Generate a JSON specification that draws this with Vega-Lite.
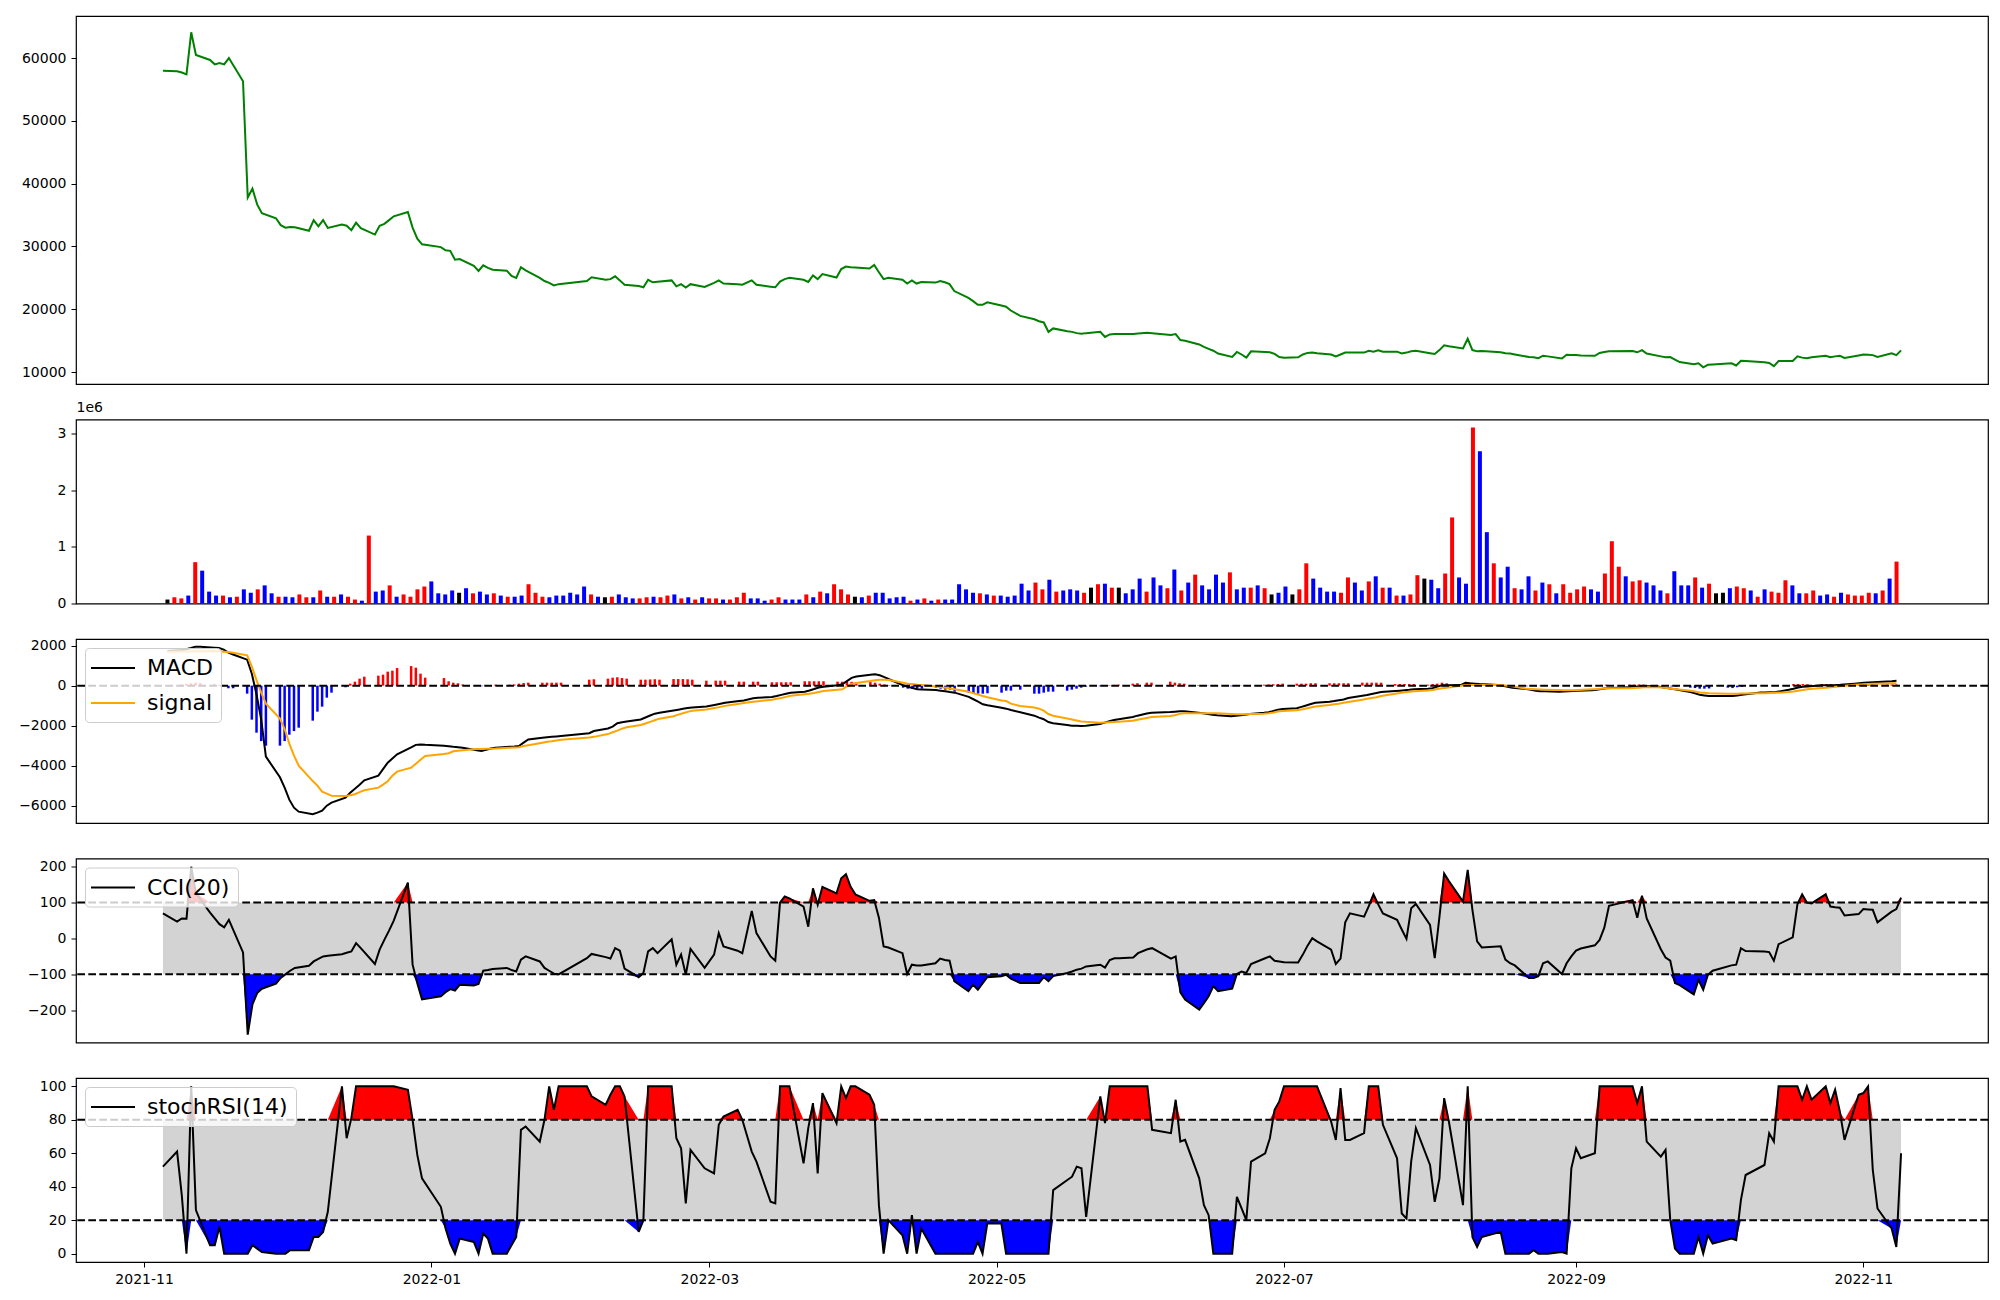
{
"$schema":"https://vega.github.io/schema/vega-lite/v6.json",
"padding":{"left":18,"top":15,"right":15,"bottom":10},
"bounds":"flush",
"spacing":35.5,
"resolve":{"scale":{"color":"independent"},"legend":{"color":"independent"}},
"config":{
 "view":{"stroke":"black","strokeWidth":1.2},
 "axis":{"labelFont":"DejaVu Sans","labelFontSize":14,"labelColor":"black","tickColor":"black","tickSize":5,"tickWidth":1,"labelPadding":5,"domain":false,"grid":false,"titleFont":"DejaVu Sans","titleFontWeight":"normal","titleColor":"black"},
 "legend":{"orient":"top-left","offset":9,"fillColor":"rgba(255,255,255,0.8)","strokeColor":"#cccccc","cornerRadius":4,"padding":8,"labelFont":"DejaVu Sans","labelFontSize":22,"labelColor":"black","symbolType":"M-2,0H2","symbolStrokeWidth":2,"symbolSize":484,"symbolOffset":8,"labelOffset":22,"rowPadding":12}
},
"datasets":{"d":[
{"t":"2021-11-05","i":0,"p":58000,"v":70000,"k":"n","m":1730,"s":1700,"h":30,"c":70,"r":52},
{"t":"2021-11-08","i":1,"p":57900,"v":110000,"k":"u","m":1780,"s":1705,"h":60,"c":47,"r":61},
{"t":"2021-11-09","i":2,"p":57700,"v":90000,"k":"u","m":1820,"s":1710,"h":90,"c":56,"r":35},
{"t":"2021-11-10","i":3,"p":57400,"v":140000,"k":"d","m":1880,"s":1715,"h":120,"c":55,"r":0},
{"t":"2021-11-11","i":4,"p":64100,"v":730000,"k":"u","m":1950,"s":1720,"h":150,"c":200,"r":100},
{"t":"2021-11-12","i":5,"p":60500,"v":580000,"k":"d","m":1950,"s":1725,"h":130,"c":126,"r":26},
{"t":"2021-11-15","i":6,"p":59700,"v":210000,"k":"d","m":1900,"s":1730,"h":80,"c":72,"r":5},
{"t":"2021-11-16","i":7,"p":59000,"v":140000,"k":"d","m":1880,"s":1725,"h":40,"c":56,"r":5},
{"t":"2021-11-17","i":8,"p":59200,"v":140000,"k":"u","m":1800,"s":1700,"h":-20,"c":40,"r":16},
{"t":"2021-11-18","i":9,"p":59000,"v":110000,"k":"d","m":1650,"s":1680,"h":-130,"c":31,"r":0},
{"t":"2021-11-19","i":10,"p":60000,"v":120000,"k":"u","m":1560,"s":1650,"h":-130,"c":52,"r":0},
{"t":"2021-11-22","i":11,"p":56300,"v":250000,"k":"d","m":1300,"s":1520,"h":-400,"c":-39,"r":0},
{"t":"2021-11-23","i":12,"p":37800,"v":190000,"k":"d","m":600,"s":950,"h":-1700,"c":-268,"r":0},
{"t":"2021-11-24","i":13,"p":39200,"v":250000,"k":"u","m":-440,"s":280,"h":-2350,"c":-184,"r":5},
{"t":"2021-11-25","i":14,"p":36700,"v":320000,"k":"d","m":-1700,"s":-350,"h":-2770,"c":-152,"r":3},
{"t":"2021-11-26","i":15,"p":35300,"v":180000,"k":"d","m":-3550,"s":-900,"h":-3000,"c":-140,"r":1},
{"t":"2021-11-29","i":16,"p":34500,"v":120000,"k":"u","m":-4580,"s":-1650,"h":-3000,"c":-126,"r":0},
{"t":"2021-11-30","i":17,"p":33400,"v":120000,"k":"d","m":-5100,"s":-2170,"h":-2770,"c":-110,"r":0},
{"t":"2021-12-01","i":18,"p":33000,"v":110000,"k":"d","m":-5700,"s":-2900,"h":-2450,"c":-100,"r":0},
{"t":"2021-12-02","i":19,"p":33100,"v":160000,"k":"u","m":-6100,"s":-3500,"h":-2270,"c":-90,"r":2},
{"t":"2021-12-03","i":20,"p":33050,"v":110000,"k":"u","m":-6300,"s":-4000,"h":-2100,"c":-82,"r":2},
{"t":"2021-12-06","i":21,"p":32500,"v":110000,"k":"d","m":-6430,"s":-4770,"h":-1750,"c":-76,"r":2},
{"t":"2021-12-07","i":22,"p":34200,"v":230000,"k":"u","m":-6350,"s":-5000,"h":-1300,"c":-64,"r":10},
{"t":"2021-12-08","i":23,"p":33200,"v":120000,"k":"d","m":-6250,"s":-5300,"h":-1050,"c":-57,"r":10},
{"t":"2021-12-09","i":24,"p":34200,"v":120000,"k":"u","m":-6000,"s":-5400,"h":-600,"c":-50,"r":13},
{"t":"2021-12-10","i":25,"p":32950,"v":160000,"k":"d","m":-5850,"s":-5500,"h":-350,"c":-48,"r":25},
{"t":"2021-12-13","i":26,"p":33500,"v":120000,"k":"u","m":-5600,"s":-5520,"h":-80,"c":-44,"r":100},
{"t":"2021-12-14","i":27,"p":33300,"v":70000,"k":"u","m":-5350,"s":-5480,"h":100,"c":-40,"r":69},
{"t":"2021-12-15","i":28,"p":32600,"v":50000,"k":"d","m":-5150,"s":-5430,"h":200,"c":-36,"r":81},
{"t":"2021-12-16","i":29,"p":33800,"v":1200000,"k":"u","m":-4950,"s":-5320,"h":350,"c":-13,"r":100},
{"t":"2021-12-17","i":30,"p":32900,"v":210000,"k":"d","m":-4730,"s":-5230,"h":450,"c":-27,"r":100},
{"t":"2021-12-20","i":31,"p":31900,"v":230000,"k":"d","m":-4500,"s":-5100,"h":500,"c":-71,"r":100},
{"t":"2021-12-21","i":32,"p":33300,"v":320000,"k":"u","m":-4170,"s":-4950,"h":550,"c":-31,"r":100},
{"t":"2021-12-22","i":33,"p":33600,"v":120000,"k":"d","m":-3850,"s":-4780,"h":700,"c":-4,"r":100},
{"t":"2021-12-23","i":34,"p":34200,"v":160000,"k":"u","m":-3640,"s":-4500,"h":750,"c":22,"r":100},
{"t":"2021-12-24","i":35,"p":34800,"v":120000,"k":"u","m":-3430,"s":-4300,"h":880,"c":50,"r":100},
{"t":"2021-12-27","i":36,"p":35500,"v":250000,"k":"u","m":-3090,"s":-4100,"h":980,"c":156,"r":98},
{"t":"2021-12-28","i":37,"p":33000,"v":300000,"k":"u","m":-2960,"s":-3900,"h":900,"c":-73,"r":80},
{"t":"2021-12-29","i":38,"p":31250,"v":390000,"k":"d","m":-2940,"s":-3700,"h":600,"c":-125,"r":59},
{"t":"2021-12-30","i":39,"p":30350,"v":180000,"k":"d","m":-2960,"s":-3520,"h":400,"c":-170,"r":45},
{"t":"2022-01-03","i":40,"p":29900,"v":160000,"k":"d","m":-3010,"s":-3420,"h":380,"c":-161,"r":28},
{"t":"2022-01-04","i":41,"p":29400,"v":230000,"k":"d","m":-3030,"s":-3380,"h":220,"c":-150,"r":15},
{"t":"2022-01-05","i":42,"p":29300,"v":190000,"k":"n","m":-3060,"s":-3280,"h":150,"c":-141,"r":6},
{"t":"2022-01-06","i":43,"p":27900,"v":270000,"k":"d","m":-3080,"s":-3250,"h":120,"c":-145,"r":0},
{"t":"2022-01-07","i":44,"p":28000,"v":180000,"k":"u","m":-3110,"s":-3230,"h":60,"c":-129,"r":9},
{"t":"2022-01-10","i":45,"p":26900,"v":210000,"k":"d","m":-3230,"s":-3170,"h":-20,"c":-131,"r":7},
{"t":"2022-01-11","i":46,"p":26100,"v":160000,"k":"d","m":-3270,"s":-3165,"h":-30,"c":-127,"r":0},
{"t":"2022-01-12","i":47,"p":27000,"v":180000,"k":"u","m":-3210,"s":-3160,"h":0,"c":-90,"r":12},
{"t":"2022-01-13","i":48,"p":26600,"v":140000,"k":"d","m":-3140,"s":-3150,"h":10,"c":-88,"r":9},
{"t":"2022-01-14","i":49,"p":26300,"v":120000,"k":"u","m":-3110,"s":-3145,"h":50,"c":-85,"r":0},
{"t":"2022-01-17","i":50,"p":26150,"v":120000,"k":"d","m":-3050,"s":-3110,"h":50,"c":-82,"r":0},
{"t":"2022-01-18","i":51,"p":25300,"v":140000,"k":"d","m":-3040,"s":-3095,"h":60,"c":-88,"r":5},
{"t":"2022-01-19","i":52,"p":25000,"v":340000,"k":"u","m":-3020,"s":-3080,"h":100,"c":-92,"r":10},
{"t":"2022-01-20","i":53,"p":26700,"v":190000,"k":"u","m":-2850,"s":-3020,"h":130,"c":-59,"r":74},
{"t":"2022-01-21","i":54,"p":26200,"v":120000,"k":"u","m":-2690,"s":-2980,"h":150,"c":-50,"r":76},
{"t":"2022-01-24","i":55,"p":25000,"v":110000,"k":"d","m":-2600,"s":-2850,"h":150,"c":-64,"r":67},
{"t":"2022-01-25","i":56,"p":24500,"v":140000,"k":"d","m":-2580,"s":-2810,"h":150,"c":-82,"r":80},
{"t":"2022-01-26","i":57,"p":24200,"v":140000,"k":"d","m":-2560,"s":-2780,"h":150,"c":-90,"r":100},
{"t":"2022-01-27","i":58,"p":23800,"v":190000,"k":"d","m":-2540,"s":-2740,"h":150,"c":-98,"r":86},
{"t":"2022-01-28","i":59,"p":24000,"v":160000,"k":"d","m":-2520,"s":-2700,"h":150,"c":-100,"r":100},
{"t":"2022-02-03","i":60,"p":24500,"v":300000,"k":"d","m":-2380,"s":-2590,"h":300,"c":-55,"r":100},
{"t":"2022-02-04","i":61,"p":25100,"v":160000,"k":"u","m":-2270,"s":-2560,"h":320,"c":-43,"r":94},
{"t":"2022-02-07","i":62,"p":24700,"v":120000,"k":"d","m":-2140,"s":-2420,"h":350,"c":-52,"r":89},
{"t":"2022-02-08","i":63,"p":24800,"v":110000,"k":"n","m":-2050,"s":-2330,"h":400,"c":-56,"r":95},
{"t":"2022-02-09","i":64,"p":25250,"v":120000,"k":"u","m":-1880,"s":-2250,"h":420,"c":-27,"r":100},
{"t":"2022-02-10","i":65,"p":24600,"v":160000,"k":"d","m":-1830,"s":-2150,"h":380,"c":-34,"r":100},
{"t":"2022-02-11","i":66,"p":23900,"v":110000,"k":"d","m":-1790,"s":-2080,"h":350,"c":-84,"r":94},
{"t":"2022-02-14","i":67,"p":23700,"v":90000,"k":"d","m":-1690,"s":-1970,"h":300,"c":-108,"r":13},
{"t":"2022-02-15","i":68,"p":23500,"v":90000,"k":"u","m":-1590,"s":-1890,"h":300,"c":-96,"r":20},
{"t":"2022-02-16","i":69,"p":24700,"v":110000,"k":"u","m":-1490,"s":-1810,"h":310,"c":-36,"r":100},
{"t":"2022-02-17","i":70,"p":24300,"v":120000,"k":"d","m":-1400,"s":-1730,"h":320,"c":-27,"r":100},
{"t":"2022-02-18","i":71,"p":24400,"v":110000,"k":"u","m":-1350,"s":-1650,"h":300,"c":-41,"r":100},
{"t":"2022-02-21","i":72,"p":24600,"v":140000,"k":"u","m":-1240,"s":-1530,"h":330,"c":-2,"r":100},
{"t":"2022-02-22","i":73,"p":23650,"v":160000,"k":"d","m":-1200,"s":-1450,"h":330,"c":-73,"r":69},
{"t":"2022-02-23","i":74,"p":24000,"v":90000,"k":"u","m":-1160,"s":-1380,"h":330,"c":-45,"r":63},
{"t":"2022-02-24","i":75,"p":23450,"v":110000,"k":"d","m":-1120,"s":-1310,"h":320,"c":-101,"r":30},
{"t":"2022-02-25","i":76,"p":24000,"v":70000,"k":"u","m":-1090,"s":-1260,"h":300,"c":-29,"r":62},
{"t":"2022-02-28","i":77,"p":23550,"v":110000,"k":"d","m":-1040,"s":-1190,"h":250,"c":-82,"r":51},
{"t":"2022-03-02","i":78,"p":24200,"v":90000,"k":"u","m":-950,"s":-1110,"h":250,"c":-45,"r":48},
{"t":"2022-03-03","i":79,"p":24600,"v":90000,"k":"u","m":-900,"s":-1060,"h":250,"c":15,"r":77},
{"t":"2022-03-04","i":80,"p":24100,"v":70000,"k":"d","m":-850,"s":-1010,"h":250,"c":-22,"r":82},
{"t":"2022-03-07","i":81,"p":24000,"v":70000,"k":"u","m":-770,"s":-900,"h":200,"c":-34,"r":86},
{"t":"2022-03-08","i":82,"p":23900,"v":110000,"k":"u","m":-740,"s":-870,"h":200,"c":-41,"r":80},
{"t":"2022-03-10","i":83,"p":24600,"v":190000,"k":"u","m":-630,"s":-810,"h":200,"c":77,"r":61},
{"t":"2022-03-11","i":84,"p":23900,"v":90000,"k":"d","m":-600,"s":-780,"h":200,"c":15,"r":55},
{"t":"2022-03-14","i":85,"p":23600,"v":90000,"k":"d","m":-570,"s":-700,"h":170,"c":-50,"r":31},
{"t":"2022-03-15","i":86,"p":23500,"v":50000,"k":"d","m":-520,"s":-660,"h":170,"c":-62,"r":30},
{"t":"2022-03-16","i":87,"p":24400,"v":70000,"k":"u","m":-460,"s":-620,"h":170,"c":100,"r":100},
{"t":"2022-03-17","i":88,"p":24800,"v":110000,"k":"u","m":-400,"s":-560,"h":170,"c":117,"r":100},
{"t":"2022-03-18","i":89,"p":25000,"v":70000,"k":"d","m":-350,"s":-510,"h":170,"c":112,"r":100},
{"t":"2022-03-21","i":90,"p":24700,"v":70000,"k":"d","m":-300,"s":-430,"h":220,"c":89,"r":54},
{"t":"2022-03-22","i":91,"p":24350,"v":70000,"k":"d","m":-240,"s":-400,"h":220,"c":33,"r":75},
{"t":"2022-03-23","i":92,"p":25400,"v":160000,"k":"u","m":-170,"s":-370,"h":220,"c":140,"r":90},
{"t":"2022-03-24","i":93,"p":24800,"v":110000,"k":"d","m":-90,"s":-320,"h":220,"c":94,"r":48},
{"t":"2022-03-25","i":94,"p":25600,"v":210000,"k":"u","m":-60,"s":-270,"h":220,"c":144,"r":96},
{"t":"2022-03-28","i":95,"p":25050,"v":180000,"k":"d","m":20,"s":-200,"h":200,"c":126,"r":78},
{"t":"2022-03-29","i":96,"p":26400,"v":340000,"k":"u","m":70,"s":-180,"h":200,"c":168,"r":100},
{"t":"2022-03-30","i":97,"p":26800,"v":250000,"k":"u","m":230,"s":-40,"h":200,"c":179,"r":93},
{"t":"2022-03-31","i":98,"p":26700,"v":160000,"k":"u","m":390,"s":90,"h":190,"c":144,"r":100},
{"t":"2022-04-01","i":99,"p":26650,"v":120000,"k":"n","m":460,"s":130,"h":180,"c":123,"r":100},
{"t":"2022-04-04","i":100,"p":26500,"v":110000,"k":"d","m":550,"s":230,"h":180,"c":105,"r":95},
{"t":"2022-04-05","i":101,"p":27050,"v":140000,"k":"u","m":570,"s":270,"h":150,"c":107,"r":89},
{"t":"2022-04-06","i":102,"p":25900,"v":190000,"k":"d","m":520,"s":300,"h":100,"c":58,"r":29},
{"t":"2022-04-07","i":103,"p":24800,"v":190000,"k":"d","m":430,"s":300,"h":60,"c":-22,"r":0},
{"t":"2022-04-08","i":104,"p":25000,"v":90000,"k":"d","m":320,"s":285,"h":20,"c":-25,"r":20},
{"t":"2022-04-11","i":105,"p":24700,"v":110000,"k":"d","m":20,"s":150,"h":-100,"c":-41,"r":11},
{"t":"2022-04-12","i":106,"p":24100,"v":120000,"k":"d","m":-60,"s":100,"h":-150,"c":-99,"r":0},
{"t":"2022-04-13","i":107,"p":24600,"v":50000,"k":"u","m":-120,"s":80,"h":-150,"c":-73,"r":23},
{"t":"2022-04-14","i":108,"p":24100,"v":70000,"k":"d","m":-175,"s":50,"h":-150,"c":-75,"r":0},
{"t":"2022-04-15","i":109,"p":24350,"v":90000,"k":"u","m":-190,"s":30,"h":-150,"c":-75,"r":15},
{"t":"2022-04-18","i":110,"p":24250,"v":50000,"k":"d","m":-220,"s":-40,"h":-100,"c":-69,"r":0},
{"t":"2022-04-19","i":111,"p":24500,"v":70000,"k":"u","m":-250,"s":-70,"h":-150,"c":-56,"r":0},
{"t":"2022-04-20","i":112,"p":24300,"v":70000,"k":"d","m":-280,"s":-100,"h":-200,"c":-60,"r":0},
{"t":"2022-04-21","i":113,"p":24000,"v":70000,"k":"d","m":-320,"s":-140,"h":-200,"c":-62,"r":0},
{"t":"2022-04-22","i":114,"p":22900,"v":340000,"k":"d","m":-350,"s":-180,"h":-300,"c":-119,"r":0},
{"t":"2022-04-25","i":115,"p":21800,"v":250000,"k":"d","m":-560,"s":-300,"h":-350,"c":-147,"r":0},
{"t":"2022-04-26","i":116,"p":21300,"v":190000,"k":"d","m":-680,"s":-380,"h":-380,"c":-129,"r":0},
{"t":"2022-04-27","i":117,"p":20700,"v":180000,"k":"u","m":-800,"s":-450,"h":-400,"c":-143,"r":7},
{"t":"2022-04-28","i":118,"p":20700,"v":160000,"k":"d","m":-930,"s":-520,"h":-400,"c":-125,"r":0},
{"t":"2022-04-29","i":119,"p":21100,"v":140000,"k":"u","m":-980,"s":-580,"h":-380,"c":-108,"r":18},
{"t":"2022-05-02","i":120,"p":20600,"v":140000,"k":"d","m":-1100,"s":-740,"h":-350,"c":-105,"r":18},
{"t":"2022-05-03","i":121,"p":20400,"v":120000,"k":"d","m":-1150,"s":-770,"h":-250,"c":-101,"r":0},
{"t":"2022-05-04","i":122,"p":19800,"v":140000,"k":"d","m":-1220,"s":-900,"h":-250,"c":-112,"r":0},
{"t":"2022-05-06","i":123,"p":18950,"v":350000,"k":"d","m":-1330,"s":-1020,"h":-200,"c":-124,"r":0},
{"t":"2022-05-09","i":124,"p":18400,"v":230000,"k":"d","m":-1500,"s":-1090,"h":-400,"c":-124,"r":0},
{"t":"2022-05-10","i":125,"p":18100,"v":370000,"k":"u","m":-1600,"s":-1150,"h":-400,"c":-124,"r":0},
{"t":"2022-05-11","i":126,"p":17900,"v":250000,"k":"u","m":-1680,"s":-1250,"h":-350,"c":-108,"r":0},
{"t":"2022-05-12","i":127,"p":16400,"v":420000,"k":"d","m":-1820,"s":-1420,"h":-300,"c":-119,"r":0},
{"t":"2022-05-13","i":128,"p":16950,"v":210000,"k":"u","m":-1880,"s":-1500,"h":-300,"c":-105,"r":38},
{"t":"2022-05-16","i":129,"p":16500,"v":230000,"k":"d","m":-1970,"s":-1640,"h":-250,"c":-96,"r":44},
{"t":"2022-05-17","i":130,"p":16400,"v":250000,"k":"d","m":-2000,"s":-1690,"h":-200,"c":-92,"r":46},
{"t":"2022-05-18","i":131,"p":16200,"v":230000,"k":"d","m":-2010,"s":-1740,"h":-150,"c":-87,"r":52},
{"t":"2022-05-19","i":132,"p":16100,"v":190000,"k":"u","m":-2020,"s":-1790,"h":-100,"c":-84,"r":51},
{"t":"2022-05-20","i":133,"p":16200,"v":280000,"k":"n","m":-2000,"s":-1810,"h":-50,"c":-78,"r":22},
{"t":"2022-05-23","i":134,"p":16400,"v":340000,"k":"u","m":-1920,"s":-1850,"h":-30,"c":-73,"r":94},
{"t":"2022-05-24","i":135,"p":15600,"v":350000,"k":"d","m":-1850,"s":-1840,"h":-10,"c":-81,"r":78},
{"t":"2022-05-25","i":136,"p":16000,"v":280000,"k":"u","m":-1780,"s":-1830,"h":20,"c":-60,"r":100},
{"t":"2022-05-26","i":137,"p":16050,"v":280000,"k":"n","m":-1720,"s":-1820,"h":40,"c":-55,"r":100},
{"t":"2022-05-27","i":138,"p":16050,"v":180000,"k":"d","m":-1680,"s":-1810,"h":50,"c":-55,"r":100},
{"t":"2022-05-30","i":139,"p":16050,"v":250000,"k":"d","m":-1570,"s":-1750,"h":100,"c":-53,"r":100},
{"t":"2022-05-31","i":140,"p":16150,"v":440000,"k":"d","m":-1500,"s":-1710,"h":120,"c":-41,"r":100},
{"t":"2022-06-02","i":141,"p":16250,"v":210000,"k":"u","m":-1390,"s":-1620,"h":150,"c":-30,"r":100},
{"t":"2022-06-03","i":142,"p":16200,"v":460000,"k":"d","m":-1350,"s":-1570,"h":150,"c":-27,"r":74},
{"t":"2022-06-07","i":143,"p":15900,"v":320000,"k":"d","m":-1320,"s":-1520,"h":200,"c":-56,"r":72},
{"t":"2022-06-08","i":144,"p":16050,"v":270000,"k":"u","m":-1300,"s":-1480,"h":150,"c":-50,"r":92},
{"t":"2022-06-09","i":145,"p":15100,"v":600000,"k":"d","m":-1280,"s":-1410,"h":120,"c":-150,"r":67},
{"t":"2022-06-10","i":146,"p":15000,"v":230000,"k":"u","m":-1280,"s":-1380,"h":100,"c":-170,"r":68},
{"t":"2022-06-13","i":147,"p":14400,"v":370000,"k":"d","m":-1350,"s":-1380,"h":30,"c":-198,"r":45},
{"t":"2022-06-14","i":148,"p":14000,"v":510000,"k":"u","m":-1380,"s":-1380,"h":0,"c":-180,"r":29},
{"t":"2022-06-15","i":149,"p":13700,"v":320000,"k":"d","m":-1420,"s":-1380,"h":-10,"c":-161,"r":23},
{"t":"2022-06-16","i":150,"p":13400,"v":250000,"k":"d","m":-1450,"s":-1380,"h":-20,"c":-133,"r":0},
{"t":"2022-06-17","i":151,"p":12950,"v":510000,"k":"d","m":-1480,"s":-1380,"h":-30,"c":-147,"r":0},
{"t":"2022-06-20","i":152,"p":12400,"v":370000,"k":"d","m":-1530,"s":-1420,"h":-30,"c":-140,"r":0},
{"t":"2022-06-21","i":153,"p":13200,"v":550000,"k":"u","m":-1510,"s":-1430,"h":-20,"c":-99,"r":34},
{"t":"2022-06-22","i":154,"p":12800,"v":250000,"k":"d","m":-1480,"s":-1430,"h":-10,"c":-92,"r":27},
{"t":"2022-06-23","i":155,"p":12300,"v":280000,"k":"d","m":-1450,"s":-1430,"h":10,"c":-96,"r":20},
{"t":"2022-06-24","i":156,"p":13300,"v":280000,"k":"u","m":-1420,"s":-1420,"h":30,"c":-71,"r":55},
{"t":"2022-06-27","i":157,"p":13200,"v":320000,"k":"d","m":-1360,"s":-1400,"h":50,"c":-55,"r":60},
{"t":"2022-06-28","i":158,"p":13150,"v":270000,"k":"u","m":-1330,"s":-1380,"h":60,"c":-50,"r":69},
{"t":"2022-06-29","i":159,"p":12900,"v":160000,"k":"n","m":-1270,"s":-1340,"h":70,"c":-62,"r":86},
{"t":"2022-06-30","i":160,"p":12400,"v":190000,"k":"d","m":-1200,"s":-1290,"h":80,"c":-64,"r":91},
{"t":"2022-07-01","i":161,"p":12300,"v":300000,"k":"d","m":-1170,"s":-1270,"h":100,"c":-66,"r":100},
{"t":"2022-07-04","i":162,"p":12350,"v":160000,"k":"n","m":-1130,"s":-1230,"h":100,"c":-67,"r":100},
{"t":"2022-07-05","i":163,"p":12800,"v":250000,"k":"u","m":-1060,"s":-1190,"h":100,"c":-45,"r":100},
{"t":"2022-07-06","i":164,"p":13050,"v":710000,"k":"u","m":-990,"s":-1140,"h":100,"c":-20,"r":100},
{"t":"2022-07-07","i":165,"p":13100,"v":440000,"k":"d","m":-920,"s":-1090,"h":120,"c":1,"r":100},
{"t":"2022-07-08","i":166,"p":13000,"v":280000,"k":"d","m":-860,"s":-1040,"h":120,"c":-8,"r":100},
{"t":"2022-07-11","i":167,"p":12800,"v":210000,"k":"d","m":-800,"s":-970,"h":120,"c":-31,"r":79},
{"t":"2022-07-12","i":168,"p":12500,"v":210000,"k":"d","m":-770,"s":-930,"h":120,"c":-71,"r":68},
{"t":"2022-07-13","i":169,"p":12800,"v":190000,"k":"u","m":-730,"s":-900,"h":120,"c":-56,"r":99},
{"t":"2022-07-14","i":170,"p":13100,"v":460000,"k":"u","m":-690,"s":-860,"h":120,"c":45,"r":68},
{"t":"2022-07-15","i":171,"p":13100,"v":370000,"k":"d","m":-620,"s":-820,"h":120,"c":70,"r":68},
{"t":"2022-07-18","i":172,"p":13100,"v":230000,"k":"d","m":-510,"s":-700,"h":150,"c":61,"r":72},
{"t":"2022-07-19","i":173,"p":13400,"v":390000,"k":"u","m":-470,"s":-660,"h":150,"c":90,"r":100},
{"t":"2022-07-20","i":174,"p":13250,"v":480000,"k":"d","m":-420,"s":-620,"h":150,"c":123,"r":100},
{"t":"2022-07-21","i":175,"p":13450,"v":280000,"k":"u","m":-370,"s":-580,"h":150,"c":95,"r":100},
{"t":"2022-07-22","i":176,"p":13250,"v":280000,"k":"d","m":-320,"s":-520,"h":150,"c":70,"r":77},
{"t":"2022-07-25","i":177,"p":13250,"v":140000,"k":"u","m":-270,"s":-400,"h":80,"c":52,"r":57},
{"t":"2022-07-26","i":178,"p":12950,"v":140000,"k":"d","m":-250,"s":-370,"h":80,"c":25,"r":24},
{"t":"2022-07-27","i":179,"p":13100,"v":160000,"k":"u","m":-230,"s":-330,"h":80,"c":-1,"r":21},
{"t":"2022-07-28","i":180,"p":13300,"v":500000,"k":"u","m":-210,"s":-300,"h":80,"c":84,"r":55},
{"t":"2022-07-29","i":181,"p":13400,"v":440000,"k":"n","m":-180,"s":-280,"h":80,"c":96,"r":75},
{"t":"2022-08-01","i":182,"p":13000,"v":420000,"k":"d","m":-150,"s":-240,"h":50,"c":38,"r":53},
{"t":"2022-08-02","i":183,"p":12870,"v":270000,"k":"d","m":-130,"s":-220,"h":80,"c":-55,"r":31},
{"t":"2022-08-03","i":184,"p":13500,"v":530000,"k":"u","m":-50,"s":-170,"h":100,"c":60,"r":45},
{"t":"2022-08-04","i":185,"p":14250,"v":1520000,"k":"u","m":20,"s":-130,"h":150,"c":181,"r":93},
{"t":"2022-08-05","i":186,"p":14100,"v":460000,"k":"d","m":25,"s":-100,"h":120,"c":160,"r":79},
{"t":"2022-08-08","i":187,"p":13750,"v":350000,"k":"d","m":30,"s":-10,"h":40,"c":103,"r":29},
{"t":"2022-08-09","i":188,"p":15300,"v":3110000,"k":"u","m":150,"s":30,"h":150,"c":191,"r":100},
{"t":"2022-08-10","i":189,"p":13500,"v":2690000,"k":"d","m":120,"s":30,"h":50,"c":80,"r":10},
{"t":"2022-08-11","i":190,"p":13300,"v":1260000,"k":"d","m":100,"s":30,"h":30,"c":-8,"r":4},
{"t":"2022-08-12","i":191,"p":13350,"v":710000,"k":"u","m":80,"s":30,"h":20,"c":-25,"r":10},
{"t":"2022-08-16","i":192,"p":13150,"v":460000,"k":"d","m":30,"s":30,"h":0,"c":-22,"r":13},
{"t":"2022-08-17","i":193,"p":13000,"v":650000,"k":"d","m":0,"s":25,"h":-10,"c":-59,"r":0},
{"t":"2022-08-18","i":194,"p":12950,"v":270000,"k":"u","m":-60,"s":0,"h":-20,"c":-69,"r":0},
{"t":"2022-08-19","i":195,"p":12800,"v":250000,"k":"d","m":-100,"s":-30,"h":-30,"c":-75,"r":0},
{"t":"2022-08-22","i":196,"p":12400,"v":480000,"k":"d","m":-170,"s":-160,"h":-30,"c":-110,"r":0},
{"t":"2022-08-23","i":197,"p":12350,"v":230000,"k":"u","m":-210,"s":-170,"h":-30,"c":-110,"r":2},
{"t":"2022-08-24","i":198,"p":12200,"v":370000,"k":"d","m":-260,"s":-180,"h":-30,"c":-105,"r":0},
{"t":"2022-08-25","i":199,"p":12600,"v":340000,"k":"u","m":-275,"s":-190,"h":-20,"c":-69,"r":0},
{"t":"2022-08-26","i":200,"p":12500,"v":180000,"k":"d","m":-285,"s":-200,"h":-20,"c":-64,"r":0},
{"t":"2022-08-29","i":201,"p":12150,"v":340000,"k":"u","m":-300,"s":-220,"h":-10,"c":-99,"r":1},
{"t":"2022-08-30","i":202,"p":12750,"v":190000,"k":"u","m":-290,"s":-225,"h":-10,"c":-69,"r":0},
{"t":"2022-08-31","i":203,"p":12700,"v":250000,"k":"u","m":-280,"s":-230,"h":0,"c":-50,"r":51},
{"t":"2022-09-01","i":204,"p":12700,"v":300000,"k":"u","m":-270,"s":-225,"h":0,"c":-34,"r":63},
{"t":"2022-09-02","i":205,"p":12650,"v":250000,"k":"d","m":-260,"s":-215,"h":0,"c":-28,"r":57},
{"t":"2022-09-05","i":206,"p":12600,"v":210000,"k":"d","m":-230,"s":-180,"h":10,"c":-19,"r":60},
{"t":"2022-09-06","i":207,"p":13050,"v":530000,"k":"u","m":-200,"s":-170,"h":30,"c":-4,"r":100},
{"t":"2022-09-07","i":208,"p":13200,"v":1100000,"k":"u","m":-170,"s":-150,"h":40,"c":30,"r":100},
{"t":"2022-09-08","i":209,"p":13300,"v":650000,"k":"u","m":-130,"s":-130,"h":50,"c":91,"r":100},
{"t":"2022-09-13","i":210,"p":13350,"v":480000,"k":"d","m":-75,"s":-130,"h":50,"c":107,"r":100},
{"t":"2022-09-14","i":211,"p":13150,"v":390000,"k":"u","m":-60,"s":-115,"h":50,"c":58,"r":90},
{"t":"2022-09-15","i":212,"p":13500,"v":410000,"k":"u","m":-40,"s":-100,"h":60,"c":119,"r":100},
{"t":"2022-09-16","i":213,"p":12950,"v":370000,"k":"d","m":-20,"s":-85,"h":50,"c":56,"r":67},
{"t":"2022-09-19","i":214,"p":12500,"v":320000,"k":"d","m":-45,"s":-75,"h":20,"c":-30,"r":58},
{"t":"2022-09-20","i":215,"p":12350,"v":230000,"k":"d","m":-80,"s":-90,"h":0,"c":-53,"r":62},
{"t":"2022-09-21","i":216,"p":12400,"v":180000,"k":"u","m":-120,"s":-120,"h":-20,"c":-62,"r":20},
{"t":"2022-09-22","i":217,"p":12000,"v":570000,"k":"d","m":-150,"s":-150,"h":-40,"c":-124,"r":3},
{"t":"2022-09-23","i":218,"p":11600,"v":320000,"k":"d","m":-190,"s":-180,"h":-60,"c":-130,"r":0},
{"t":"2022-09-26","i":219,"p":11250,"v":320000,"k":"d","m":-320,"s":-260,"h":-100,"c":-156,"r":0},
{"t":"2022-09-27","i":220,"p":11400,"v":460000,"k":"u","m":-380,"s":-290,"h":-120,"c":-115,"r":10},
{"t":"2022-09-28","i":221,"p":10750,"v":280000,"k":"d","m":-460,"s":-340,"h":-150,"c":-143,"r":0},
{"t":"2022-09-29","i":222,"p":11150,"v":350000,"k":"u","m":-490,"s":-360,"h":-150,"c":-101,"r":11},
{"t":"2022-09-30","i":223,"p":11200,"v":180000,"k":"n","m":-520,"s":-380,"h":-140,"c":-90,"r":6},
{"t":"2022-10-04","i":224,"p":11400,"v":190000,"k":"n","m":-520,"s":-400,"h":-100,"c":-75,"r":9},
{"t":"2022-10-05","i":225,"p":11050,"v":270000,"k":"d","m":-520,"s":-400,"h":-120,"c":-73,"r":8},
{"t":"2022-10-06","i":226,"p":11800,"v":300000,"k":"u","m":-490,"s":-400,"h":-80,"c":-27,"r":32},
{"t":"2022-10-07","i":227,"p":11750,"v":270000,"k":"u","m":-460,"s":-395,"h":-60,"c":-35,"r":47},
{"t":"2022-10-11","i":228,"p":11550,"v":230000,"k":"d","m":-345,"s":-380,"h":10,"c":-36,"r":53},
{"t":"2022-10-12","i":229,"p":11450,"v":120000,"k":"u","m":-340,"s":-375,"h":0,"c":-38,"r":72},
{"t":"2022-10-13","i":230,"p":10950,"v":250000,"k":"d","m":-335,"s":-370,"h":0,"c":-62,"r":67},
{"t":"2022-10-14","i":231,"p":11750,"v":210000,"k":"u","m":-330,"s":-360,"h":10,"c":-16,"r":100},
{"t":"2022-10-17","i":232,"p":11750,"v":190000,"k":"u","m":-200,"s":-320,"h":20,"c":3,"r":100},
{"t":"2022-10-18","i":233,"p":12500,"v":410000,"k":"u","m":-150,"s":-290,"h":80,"c":95,"r":100},
{"t":"2022-10-19","i":234,"p":12300,"v":320000,"k":"d","m":-90,"s":-250,"h":80,"c":123,"r":92},
{"t":"2022-10-20","i":235,"p":12200,"v":180000,"k":"d","m":-60,"s":-220,"h":80,"c":100,"r":100},
{"t":"2022-10-21","i":236,"p":12350,"v":180000,"k":"u","m":-40,"s":-180,"h":70,"c":98,"r":92},
{"t":"2022-10-24","i":237,"p":12600,"v":230000,"k":"u","m":20,"s":-120,"h":80,"c":123,"r":100},
{"t":"2022-10-25","i":238,"p":12350,"v":140000,"k":"d","m":22,"s":-100,"h":80,"c":89,"r":90},
{"t":"2022-10-26","i":239,"p":12500,"v":160000,"k":"d","m":25,"s":-80,"h":70,"c":87,"r":98},
{"t":"2022-10-27","i":240,"p":12600,"v":120000,"k":"u","m":28,"s":-50,"h":60,"c":86,"r":85},
{"t":"2022-10-28","i":241,"p":12250,"v":190000,"k":"d","m":40,"s":-30,"h":50,"c":64,"r":68},
{"t":"2022-10-31","i":242,"p":12650,"v":160000,"k":"u","m":100,"s":40,"h":50,"c":68,"r":95},
{"t":"2022-11-01","i":243,"p":12800,"v":140000,"k":"u","m":125,"s":55,"h":50,"c":82,"r":96},
{"t":"2022-11-02","i":244,"p":12750,"v":140000,"k":"u","m":140,"s":70,"h":50,"c":81,"r":100},
{"t":"2022-11-03","i":245,"p":12700,"v":190000,"k":"u","m":160,"s":80,"h":50,"c":80,"r":50},
{"t":"2022-11-04","i":246,"p":12400,"v":180000,"k":"d","m":175,"s":90,"h":50,"c":45,"r":27},
{"t":"2022-11-07","i":247,"p":13000,"v":230000,"k":"u","m":210,"s":110,"h":60,"c":75,"r":15},
{"t":"2022-11-08","i":248,"p":12700,"v":440000,"k":"d","m":220,"s":115,"h":60,"c":82,"r":4},
{"t":"2022-11-09","i":249,"p":13450,"v":740000,"k":"u","m":240,"s":120,"h":60,"c":114,"r":60}
]},
"data":{"name":"d"},
"vconcat":[
{
 "width":1912,"height":368,
 "mark":{"type":"line","color":"green","strokeWidth":2},
 "encoding":{
  "x":{"field":"t","type":"temporal","scale":{"type":"utc","domain":[{"year":2021,"month":10,"date":17,"hours":13,"utc":true},{"year":2022,"month":11,"date":27,"hours":11,"utc":true}]},"axis":null},
  "y":{"field":"p","type":"quantitative","scale":{"domain":[8100,66700],"nice":false,"zero":false},"axis":{"values":[10000,20000,30000,40000,50000,60000],"format":"d","title":null}}
 }
},
{
 "width":1912,"height":184,
 "mark":{"type":"bar","size":4},
 "encoding":{
  "x":{"field":"i","type":"quantitative","scale":{"domain":[-12.45,261.45],"nice":false,"zero":false},"axis":null},
  "y":{"field":"v","type":"quantitative","stack":null,"scale":{"domain":[0,3250000],"nice":false},"axis":{"values":[0,1000000,2000000,3000000],"labelExpr":"format(datum.value/1000000,'d')","title":"1e6","titleAngle":0,"titleAlign":"left","titleBaseline":"bottom","titleX":0,"titleY":-5,"titleFontSize":14}},
  "y2":{"datum":0},
  "color":{"field":"k","type":"nominal","scale":{"domain":["u","d","n"],"range":["red","blue","black"]},"legend":null}
 }
},
{
 "width":1912,"height":184,
 "layer":[
  {"mark":{"type":"bar","size":2.5},"encoding":{"x":{"field":"t","type":"temporal","scale":{"type":"utc","domain":[{"year":2021,"month":10,"date":17,"hours":13,"utc":true},{"year":2022,"month":11,"date":27,"hours":11,"utc":true}]},"axis":null},"y":{"field":"h","type":"quantitative","stack":null,"scale":{"domain":[-6867,2333],"nice":false,"zero":false},"axis":{"values":[-6000,-4000,-2000,0,2000],"format":"d","title":null}},"y2":{"datum":0},"color":{"condition":{"test":"datum.h >= 0","value":"red"},"value":"blue"}}},
  {"mark":{"type":"line","strokeWidth":2},"encoding":{"x":{"field":"t","type":"temporal","axis":null},"y":{"field":"m","type":"quantitative","title":null},"color":{"datum":"MACD","scale":{"domain":["MACD","signal"],"range":["black","orange"]},"legend":{"title":null}}}},
  {"mark":{"type":"line","strokeWidth":2},"encoding":{"x":{"field":"t","type":"temporal","axis":null},"y":{"field":"s","type":"quantitative","title":null},"color":{"datum":"signal"}}},
  {"data":{"values":[{}]},"mark":{"type":"rule","color":"black","strokeWidth":2,"strokeDash":[7.7,3.3]},"encoding":{"y":{"datum":0}}}
 ]
},
{
 "width":1912,"height":184,
 "layer":[
  {"mark":{"type":"area","color":"#d3d3d3"},"encoding":{"x":{"field":"t","type":"temporal","scale":{"type":"utc","domain":[{"year":2021,"month":10,"date":17,"hours":13,"utc":true},{"year":2022,"month":11,"date":27,"hours":11,"utc":true}]},"axis":null},"y":{"datum":100,"scale":{"domain":[-290,223],"nice":false,"zero":false},"axis":null},"y2":{"datum":-100}}},
  {"mark":{"type":"area","color":"red"},"encoding":{"x":{"field":"t","type":"temporal","axis":null},"y":{"field":"c","type":"quantitative","scale":{"domain":[100,223],"range":[44.12,0],"clamp":true,"nice":false,"zero":false},"axis":null},"y2":{"datum":100}}},
  {"mark":{"type":"area","color":"blue"},"encoding":{"x":{"field":"t","type":"temporal","axis":null},"y":{"field":"c","type":"quantitative","scale":{"domain":[-290,-100],"range":[184,115.85],"clamp":true,"nice":false,"zero":false},"axis":null},"y2":{"datum":-100}}},
  {"data":{"values":[{}]},"mark":{"type":"rule","color":"black","strokeWidth":2,"strokeDash":[7.7,3.3]},"encoding":{"y":{"datum":100,"scale":{"domain":[-290,223],"nice":false,"zero":false},"axis":null}}},
  {"data":{"values":[{}]},"mark":{"type":"rule","color":"black","strokeWidth":2,"strokeDash":[7.7,3.3]},"encoding":{"y":{"datum":-100,"scale":{"domain":[-290,223],"nice":false,"zero":false},"axis":null}}},
  {"mark":{"type":"line","strokeWidth":2},"encoding":{"x":{"field":"t","type":"temporal","axis":null},"y":{"field":"c","type":"quantitative","scale":{"domain":[-290,223],"nice":false,"zero":false},"axis":{"orient":"left","values":[-200,-100,0,100,200],"format":"d","title":null}},"color":{"datum":"CCI(20)","scale":{"range":["black"]},"legend":{"title":null}}}}
 ],
 "resolve":{"scale":{"y":"independent"}}
},
{
 "width":1912,"height":184,
 "layer":[
  {"mark":{"type":"area","color":"#d3d3d3"},"encoding":{"x":{"field":"t","type":"temporal","scale":{"type":"utc","domain":[{"year":2021,"month":10,"date":17,"hours":13,"utc":true},{"year":2022,"month":11,"date":27,"hours":11,"utc":true}]},"axis":{"values":[{"year":2021,"month":11,"date":1,"utc":true},{"year":2022,"month":1,"date":1,"utc":true},{"year":2022,"month":3,"date":1,"utc":true},{"year":2022,"month":5,"date":1,"utc":true},{"year":2022,"month":7,"date":1,"utc":true},{"year":2022,"month":9,"date":1,"utc":true},{"year":2022,"month":11,"date":1,"utc":true}],"format":"%Y-%m","title":null,"labelFlush":false}},"y":{"datum":80,"scale":{"domain":[-5,105],"nice":false,"zero":false},"axis":null},"y2":{"datum":20}}},
  {"mark":{"type":"area","color":"red"},"encoding":{"x":{"field":"t","type":"temporal"},"y":{"field":"r","type":"quantitative","scale":{"domain":[80,105],"range":[41.82,0],"clamp":true,"nice":false,"zero":false},"axis":null},"y2":{"datum":80}}},
  {"mark":{"type":"area","color":"blue"},"encoding":{"x":{"field":"t","type":"temporal"},"y":{"field":"r","type":"quantitative","scale":{"domain":[-5,20],"range":[184,142.18],"clamp":true,"nice":false,"zero":false},"axis":null},"y2":{"datum":20}}},
  {"data":{"values":[{}]},"mark":{"type":"rule","color":"black","strokeWidth":2,"strokeDash":[7.7,3.3]},"encoding":{"y":{"datum":80,"scale":{"domain":[-5,105],"nice":false,"zero":false},"axis":null}}},
  {"data":{"values":[{}]},"mark":{"type":"rule","color":"black","strokeWidth":2,"strokeDash":[7.7,3.3]},"encoding":{"y":{"datum":20,"scale":{"domain":[-5,105],"nice":false,"zero":false},"axis":null}}},
  {"mark":{"type":"line","strokeWidth":2},"encoding":{"x":{"field":"t","type":"temporal"},"y":{"field":"r","type":"quantitative","scale":{"domain":[-5,105],"nice":false,"zero":false},"axis":{"orient":"left","values":[0,20,40,60,80,100],"format":"d","title":null}},"color":{"datum":"stochRSI(14)","scale":{"range":["black"]},"legend":{"title":null}}}}
 ],
 "resolve":{"scale":{"y":"independent"}}
}
]
}
